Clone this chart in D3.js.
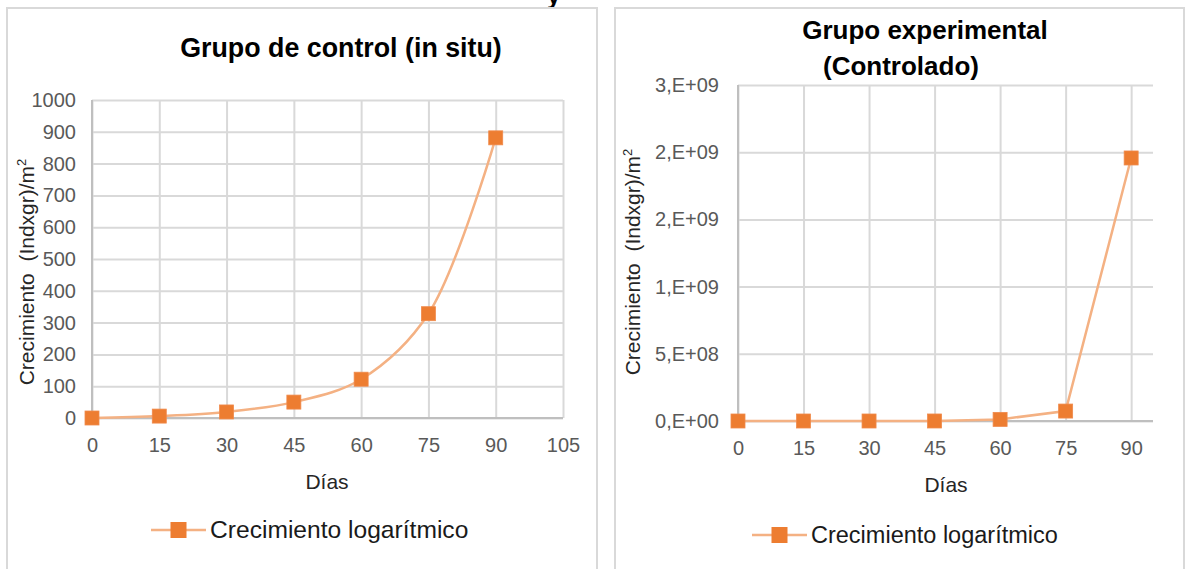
<!DOCTYPE html>
<html>
<head>
<meta charset="utf-8">
<script src="https://cdn.jsdelivr.net/npm/d3@7"></script>
<style>
  html, body { margin: 0; padding: 0; background: #fff; }
  svg { display: block; font-family: "Liberation Sans", Arial, sans-serif; }
</style>
</head>
<body>
<svg id="chart" width="1186" height="569"></svg>
<script>
// Días de muestreo
const dias = [0, 15, 30, 45, 60, 75, 90];

// Crecimiento (Ind x gr)/m² – grupo de control (in situ)
const controlValues = [0, 6, 19, 50, 122, 328, 881];

// Crecimiento (Ind x gr)/m² – grupo experimental (controlado)
const experimentalValues = [0, 0, 0, 1e5, 1.2e7, 7.4e7, 1.957e9];

// Ticks and labels
const controlXTicks = [0, 15, 30, 45, 60, 75, 90, 105];
const controlYTicks = [0, 100, 200, 300, 400, 500, 600, 700, 800, 900, 1000];
const experimentalXTicks = [0, 15, 30, 45, 60, 75, 90];
const experimentalYTicks = [0, 5e8, 1e9, 1.5e9, 2e9, 2.5e9];
const experimentalYLabels = ["0,E+00", "5,E+08", "1,E+09", "2,E+09", "2,E+09", "3,E+09"];

const seriesName = "Crecimiento logarítmico";
const xTitle = "Días";

const svg = d3.select("#chart");

const GRID = "#d9d9d9";
const AXIS = "#bfbfbf";
const TICK_TEXT = "#595959";
const MARKER = "#ed7d31";
const LINE = "#f4b183";

// descender of the caption line above the figure
svg.append("text").attr("x", 547).attr("y", 4)
  .attr("font-size", 24).attr("font-weight", "bold").attr("fill", "#000").text("y");

function drawPanel(cfg) {
  const g = svg.append("g");

  // chart frame
  g.append("rect")
    .attr("x", cfg.frame[0]).attr("y", cfg.frame[1])
    .attr("width", cfg.frame[2]).attr("height", cfg.frame[3])
    .attr("fill", "#fff").attr("stroke", GRID).attr("stroke-width", 2);

  const x = d3.scaleLinear().domain(cfg.xDomain).range(cfg.xRange);
  const y = d3.scaleLinear().domain(cfg.yDomain).range(cfg.yRange);

  // horizontal gridlines + y axis labels
  const yAxis = d3.axisLeft(y).tickValues(cfg.yTicks)
    .tickSize(-(cfg.xRange[1] - cfg.xRange[0]))
    .tickPadding(cfg.yPad)
    .tickFormat((d, i) => cfg.yLabels ? cfg.yLabels[i] : d3.format("d")(d));
  const ya = g.append("g").attr("transform", `translate(${cfg.xRange[0]},0)`).call(yAxis);
  ya.select(".domain").remove();
  ya.selectAll(".tick line").attr("stroke", GRID).attr("stroke-width", 2);
  ya.selectAll(".tick text").attr("fill", TICK_TEXT).attr("font-size", cfg.tickFont)
    .attr("font-family", "Liberation Sans, Arial, sans-serif");

  // vertical gridlines + x axis labels
  const xAxis = d3.axisBottom(x).tickValues(cfg.xTicks)
    .tickSize(-(cfg.yRange[0] - cfg.yRange[1]))
    .tickPadding(20)
    .tickFormat(d3.format("d"));
  const xa = g.append("g").attr("transform", `translate(0,${cfg.yRange[0]})`).call(xAxis);
  xa.select(".domain").remove();
  xa.selectAll(".tick line").attr("stroke", GRID).attr("stroke-width", 2);
  xa.selectAll(".tick text").attr("fill", TICK_TEXT).attr("font-size", cfg.tickFont)
    .attr("font-family", "Liberation Sans, Arial, sans-serif");

  // axis lines
  g.append("line")
    .attr("x1", cfg.xRange[0]).attr("x2", cfg.xRange[1])
    .attr("y1", cfg.yRange[0]).attr("y2", cfg.yRange[0])
    .attr("stroke", AXIS).attr("stroke-width", 2);
  g.append("line")
    .attr("x1", cfg.xRange[0]).attr("x2", cfg.xRange[0])
    .attr("y1", cfg.yRange[0]).attr("y2", cfg.yRange[1])
    .attr("stroke", AXIS).attr("stroke-width", 2);

  // series
  const pts = dias.map((d, i) => [x(d), y(cfg.values[i])]);
  const line = d3.line().curve(cfg.curve);
  g.append("path").attr("d", line(pts))
    .attr("fill", "none").attr("stroke", LINE).attr("stroke-width", 2.5);

  const m = 14;
  g.selectAll("rect.marker").data(pts).join("rect")
    .attr("class", "marker")
    .attr("x", d => d[0] - m / 2).attr("y", d => d[1] - m / 2)
    .attr("width", m).attr("height", m)
    .attr("fill", MARKER).attr("stroke", "#f08a4b").attr("stroke-width", 0.8);

  // titles
  cfg.title.forEach(t => {
    g.append("text").attr("x", t.x).attr("y", t.y)
      .attr("text-anchor", "middle").attr("font-size", cfg.titleFont).attr("font-weight", "bold")
      .attr("fill", "#000").text(t.text);
  });

  // x axis title
  g.append("text").attr("x", cfg.xTitle[0]).attr("y", cfg.xTitle[1])
    .attr("text-anchor", "middle").attr("font-size", 21).attr("fill", "#262626")
    .text(xTitle);

  // y axis title
  const yt = g.append("text")
    .attr("transform", `translate(${cfg.yTitle[0]},${cfg.yTitle[1]}) rotate(-90)`)
    .attr("text-anchor", "middle").attr("font-size", 21).attr("fill", "#262626")
    .attr("xml:space", "preserve").style("white-space", "pre");
  yt.append("tspan").text("Crecimiento  (Indxgr)/m");
  yt.append("tspan").attr("dy", -8).attr("font-size", 13).text("2");

  // legend
  const [lx, ly] = cfg.legend;
  g.append("line").attr("x1", lx).attr("x2", lx + 55).attr("y1", ly).attr("y2", ly)
    .attr("stroke", LINE).attr("stroke-width", 2.5);
  g.append("rect").attr("x", lx + 27.5 - 8).attr("y", ly - 8).attr("width", 16).attr("height", 16)
    .attr("fill", MARKER);
  g.append("text").attr("x", lx + 59).attr("y", ly + 8)
    .attr("font-size", cfg.legendFont).attr("fill", "#1a1a1a").text(seriesName);
}

drawPanel({
  frame: [7, 8, 590, 600],
  xDomain: [0, 105], xRange: [92, 563],
  yDomain: [0, 1000], yRange: [418, 100],
  xTicks: controlXTicks, yTicks: controlYTicks,
  values: controlValues,
  curve: d3.curveCatmullRom.alpha(0.5),
  tickFont: 20, yPad: 16, titleFont: 26.8, legendFont: 24.6,
  title: [{ text: "Grupo de control (in situ)", x: 341, y: 57 }],
  xTitle: [327, 489],
  yTitle: [34, 272],
  legend: [151, 530]
});

drawPanel({
  frame: [615, 8, 569, 600],
  xDomain: [0, 95], xRange: [738, 1153],
  yDomain: [0, 2.5e9], yRange: [421, 85],
  xTicks: experimentalXTicks, yTicks: experimentalYTicks, yLabels: experimentalYLabels,
  values: experimentalValues,
  curve: d3.curveLinear,
  tickFont: 20, yPad: 19, titleFont: 26, legendFont: 23.5,
  title: [{ text: "Grupo experimental", x: 925, y: 39 }, { text: "(Controlado)", x: 901, y: 75 }],
  xTitle: [946, 492],
  yTitle: [640, 262],
  legend: [752, 535]
});
</script>
</body>
</html>
